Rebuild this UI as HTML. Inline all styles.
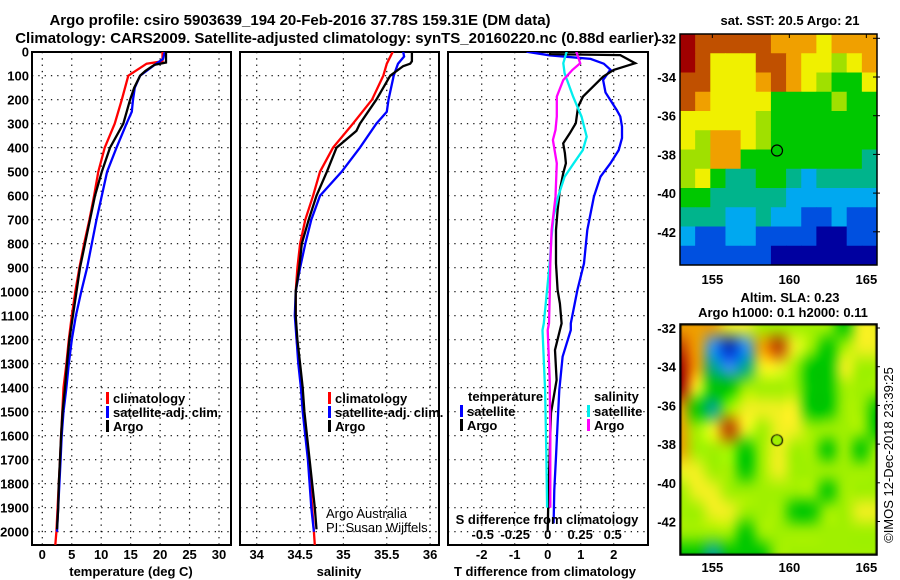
<!DOCTYPE html>
<html><head><meta charset="utf-8">
<style>
body{margin:0;background:#fff;}
svg{display:block;font-family:"Liberation Sans",Arial,sans-serif;}
.t{font-weight:bold;font-size:13px;fill:#000;}
.ti{font-weight:bold;font-size:15px;fill:#000;}
#sla{position:absolute;left:680px;top:324px;}
</style></head>
<body>
<div style="position:relative;width:900px;height:580px;overflow:hidden">
<svg id="chart" width="900" height="580" viewBox="0 0 900 580"></svg>
<canvas id="sla" width="197" height="231"></canvas>
</div>
<script>
// ---- data ----
const depthTicks=[0,100,200,300,400,500,600,700,800,900,1000,1100,1200,1300,1400,1500,1600,1700,1800,1900,2000];
const tempTicks=[0,5,10,15,20,25,30];
const salTicks=[34,34.5,35,35.5,36];
const salTickLabels=["34","34.5","35","35.5","36"];
const tdTicks=[-2,-1,0,1,2];
const sdTicks=[-0.5,-0.25,0,0.25,0.5];
const sdTickLabels=["-0.5","-0.25","0","0.25","0.5"];

const tArgoD=[0,45,55,80,100,150,200,300,400,500,600,700,800,900,1000,1100,1200,1300,1400,1500,1600,1700,1800,1900,1990];
const tArgoV=[21,21,19,17.5,16.6,15.6,14.9,13.75,11.5,10.1,8.95,8.1,7.25,6.4,5.8,5.2,4.6,4.2,3.85,3.45,3.2,3.0,2.8,2.7,2.5];
const tClimD=[0,40,50,100,200,300,400,500,600,700,800,900,1000,1100,1200,1300,1400,1500,1600,1700,1800,1900,2000,2055];
const tClimV=[20.4,20.4,17.7,14.6,13.5,12.3,10.6,9.5,8.8,8.0,7.1,6.3,5.6,5.0,4.5,4.1,3.6,3.4,3.2,3.0,2.8,2.6,2.4,2.2];
const tSatD=[0,30,60,100,150,200,250,300,400,500,600,700,800,900,1000,1100,1200,1300,1400,1500,1600,1700,1800,1900,2000];
const tSatV=[20.8,20.5,18.8,16.6,15.7,15.4,15.2,14.3,12.6,11,10.1,9.2,8.4,7.6,6.6,5.7,5.0,4.5,4.1,3.6,3.3,3.1,2.9,2.7,2.5];

const sArgoD=[0,40,50,60,100,150,200,300,330,400,500,600,700,800,900,1000,1100,1200,1300,1400,1500,1600,1700,1800,1900,1990];
const sArgoV=[35.79,35.79,35.77,35.69,35.54,35.46,35.38,35.19,35.15,34.92,34.81,34.69,34.6,34.52,34.49,34.45,34.45,34.47,34.5,34.53,34.55,34.58,34.61,34.64,34.67,34.69];
const sClimD=[0,50,100,200,300,400,500,600,700,800,900,1000,1100,1200,1300,1400,1500,1600,1700,1800,1900,2000,2055];
const sClimV=[35.57,35.5,35.46,35.33,35.11,34.88,34.73,34.65,34.56,34.5,34.47,34.45,34.45,34.46,34.49,34.52,34.54,34.57,34.6,34.62,34.64,34.66,34.67];
const sSatD=[0,20,50,80,100,200,250,300,400,500,600,700,800,900,1000,1100,1200,1300,1400,1500,1600,1700,1800,1900,2000];
const sSatV=[35.69,35.7,35.63,35.6,35.58,35.52,35.5,35.38,35.19,34.98,34.73,34.63,34.56,34.5,34.45,34.44,34.46,34.48,34.51,34.53,34.56,34.59,34.61,34.63,34.66];

const dtArgoD=[0,10,14,48,76,104,187,229,298,340,382,423,465,507,576,660,743,882,993,1049,1132,1160,1243,1368,1505,1714,1855,1993];
const dtArgoV=[0.07,0.07,2.2,2.65,2.0,1.68,1.07,0.92,0.85,0.67,0.47,0.52,0.55,0.47,0.37,0.3,0.25,0.25,0.3,0.37,0.42,0.37,0.22,0.27,0.1,0.05,0.02,0];
const dtSatD=[0,15,30,50,75,118,170,243,270,312,360,410,465,521,604,743,882,993,1132,1160,1271,1410,1549,1688,1826,1965];
const dtSatV=[-0.64,0.05,1.3,1.7,1.9,1.68,1.75,2.09,2.2,2.25,2.25,2.15,1.9,1.6,1.4,1.2,1.1,0.9,0.7,0.7,0.45,0.35,0.3,0.25,0.2,0.18];
const dsSatD=[0,48,90,187,270,354,410,465,521,604,687,771,882,1021,1132,1160,1410,1690,1900];
const dsSatV=[0.146,0.12,0.13,0.195,0.26,0.3,0.27,0.2,0.13,0.08,0.045,0.03,0.015,-0.01,-0.03,-0.04,-0.02,-0.01,-0.005];
const dsArgoD=[0,48,76,118,187,270,326,368,465,604,743,882,1021,1132,1160,1368,1576,1714,1900];
const dsArgoV=[0.22,0.25,0.19,0.12,0.07,0.07,0.06,0.04,0.07,0.06,0.03,0.02,0.015,0.01,0,0.015,0.02,0.02,0.02];

const lonTicks=[155,160,165];
const latTicks=[-32,-34,-36,-38,-40,-42];
const floatLon=159.2, floatLat=-37.8;
const sstGrid=[
[9,8,8,8,8,8,7,7,7,6,7,7,7],
[9,8,6,6,6,8,8,7,6,6,5,6,7],
[8,8,6,6,6,7,8,7,6,5,4,4,6],
[8,7,6,6,6,6,4,4,4,4,5,4,4],
[6,6,6,6,6,5,4,4,4,4,4,4,4],
[6,5,7,7,6,5,4,4,4,4,4,4,4],
[5,5,7,7,4,4,4,4,4,4,4,4,3],
[5,6,4,3,3,4,4,3,2,3,3,3,3],
[4,4,3,3,3,3,3,2,2,2,2,2,2],
[3,3,3,2,2,3,2,2,1,1,2,1,1],
[2,1,1,2,2,1,1,1,1,0,0,1,1],
[1,1,1,1,1,1,0,0,0,0,0,0,0]];
const slaGrid=[
[6,6,6,5,5,4,4,4,4,4,3,5,5],
[7,6,1,0,1,6,7,5,4,3,4,5,5],
[8,6,2,1,2,5,5,4,3,3,5,4,4],
[8,5,3,3,4,4,4,4,3,3,4,4,4],
[6,3,2,4,5,5,5,5,3,3,4,4,3],
[6,4,5,7,5,4,5,5,4,4,4,4,3],
[6,4,4,4,3,4,5,4,4,3,4,3,4],
[5,5,4,4,3,4,5,4,4,4,4,4,4],
[4,5,5,4,4,4,4,4,4,3,4,4,4],
[4,4,5,5,4,4,4,3,3,4,4,5,5],
[4,4,4,4,3,4,4,4,4,4,4,4,4],
[3,3,2,3,3,3,4,4,4,4,4,4,4]];
const sstColors=["#0000a0","#0050e0","#00a8f0","#00b48c","#00c800","#a0e000","#f0f000","#f0a000","#c05000","#a00000"];
const slaColors=["#0030c0","#3090f0","#00a890","#00c800","#a0f000","#f0f020","#f0a000","#c04000","#a00000"];

// ---- scales ----
const yD=d=>51.7+d*0.24;
const xT=v=>42.3+5.89*v;
const xS=v=>256.7+86.7*(v-34);
const xDT=v=>547.7+33*v;
const xDS=v=>547.7+130*v;
const P1={x0:32,x1:231},P2={x0:240,x1:439},P3={x0:448,x1:648};
const YT=52,YB=545;
const mapX=lon=>680+(lon-152.9)*15.4;
const sstY=lat=>38.3+(-32-lat)*19.35;
const slaY=lat=>328+(-32-lat)*19.35;

const NS="http://www.w3.org/2000/svg";
const svg=document.getElementById('chart');
function mk(tag,attrs,parent){const e=document.createElementNS(NS,tag);for(const k in attrs)e.setAttribute(k,attrs[k]);(parent||svg).appendChild(e);return e;}
function txt(x,y,s,cls,anchor,parent){const e=mk('text',{x:x,y:y,class:cls||'t','text-anchor':anchor||'start'},parent);e.textContent=s;return e;}

let e;
e=txt(300,25,"Argo profile: csiro 5903639_194 20-Feb-2016 37.78S 159.31E (DM data)",'ti','middle');


e=txt(337,43,"Climatology: CARS2009. Satellite-adjusted climatology: synTS_20160220.nc (0.88d earlier)",'ti','middle');



depthTicks.forEach(d=>{
  const t=txt(29,yD(d)+5,String(d),'t','end');
  
  
});

const defs=mk('defs',{});
[P1,P2,P3].forEach((p,i)=>{const c=mk('clipPath',{id:'clip'+i},defs);mk('rect',{x:p.x0,y:YT,width:p.x1-p.x0,height:YB-YT},c);});

function panel(p,idx,xticks,xf,name){
  const g=mk('g',{});
  
  
  depthTicks.forEach(d=>{const l=mk('line',{x1:p.x0,x2:p.x1,y1:yD(d),y2:yD(d),stroke:'#000','stroke-width':1.2,'stroke-dasharray':'1.3,5'},g);
    
    });
  xticks.forEach(v=>{const l=mk('line',{x1:xf(v),x2:xf(v),y1:YT,y2:YB,stroke:'#000','stroke-width':1.2,'stroke-dasharray':'1.3,5'},g);
    
    });
  const r=mk('rect',{x:p.x0,y:YT,width:p.x1-p.x0,height:YB-YT,fill:'none',stroke:'#000','stroke-width':2},g);
  
  
  return g;
}
function series(D,V,xf,color,idx,name){
  const pts=D.map((d,i)=>xf(V[i]).toFixed(1)+','+yD(d).toFixed(1)).join(' ');
  const l=mk('polyline',{points:pts,fill:'none',stroke:color,'stroke-width':2.3,'clip-path':'url(#clip'+idx+')'});
  
  
}

panel(P1,0,tempTicks,xT,'temperature-panel');
tempTicks.forEach(v=>{const t=txt(xT(v),559,String(v),'t','middle');
  
  });
e=txt(131,576,"temperature (deg C)",'t','middle');


series(tClimD,tClimV,xT,'#f00',0,'temp-climatology-line');
series(tSatD,tSatV,xT,'#00f',0,'temp-satellite-line');
series(tArgoD,tArgoV,xT,'#000',0,'temp-argo-line');

panel(P2,1,salTicks,xS,'salinity-panel');
salTicks.forEach((v,i)=>{const t=txt(xS(v),559,salTickLabels[i],'t','middle');
  
  });
e=txt(339,576,"salinity",'t','middle');


series(sClimD,sClimV,xS,'#f00',1,'sal-climatology-line');
series(sSatD,sSatV,xS,'#00f',1,'sal-satellite-line');
series(sArgoD,sArgoV,xS,'#000',1,'sal-argo-line');

panel(P3,2,tdTicks,xDT,'difference-panel');
tdTicks.forEach(v=>{const t=txt(xDT(v),559,String(v),'t','middle');
  
  });
e=txt(545,576,"T difference from climatology",'t','middle');


series(dtSatD,dtSatV,xDT,'#00f',2,'tdiff-satellite-line');
series(dtArgoD,dtArgoV,xDT,'#000',2,'tdiff-argo-line');
series(dsSatD,dsSatV,xDS,'#0ee',2,'sdiff-satellite-line');
series(dsArgoD,dsArgoV,xDS,'#f0f',2,'sdiff-argo-line');
e=txt(547,524,"S difference from climatology",'t','middle');


sdTicks.forEach((v,i)=>{const t=txt(xDS(v),539,sdTickLabels[i],'t','middle');
  
  });

function legItem(x,y,color,label,name){
  const g=mk('g',{});
  
  
  mk('rect',{x:x,y:y-11,width:3,height:12,fill:color},g);
  txt(x+7,y,label,'t','start',g);
}
legItem(106,403,'#f00','climatology','legend-climatology');
legItem(106,417,'#00f','satellite-adj. clim.','legend-satellite');
legItem(106,431,'#000','Argo','legend-argo');
legItem(328,403,'#f00','climatology','legend-sal-climatology');
legItem(328,417,'#00f','satellite-adj. clim.','legend-sal-satellite');
legItem(328,431,'#000','Argo','legend-sal-argo');
e=txt(468,401,"temperature");


legItem(460,416,'#00f','satellite','legend-tdiff-satellite');
legItem(460,430,'#000','Argo','legend-tdiff-argo');
e=txt(594,401,"salinity");


legItem(587,416,'#0ee','satellite','legend-sdiff-satellite');
legItem(587,430,'#f0f','Argo','legend-sdiff-argo');
e=txt(326,518,"Argo Australia",'t','start');
e.setAttribute('style','font-weight:normal');


e=txt(326,532,"PI: Susan Wijffels",'t','start');
e.setAttribute('style','font-weight:normal');



// ---- maps ----
const MX0=680,MX1=877;
function mapFrame(y0,y1,yf,name,lonY){
  const g=mk('g',{});
  
  
  mk('rect',{x:MX0,y:y0,width:MX1-MX0,height:y1-y0,fill:'none',stroke:'#000','stroke-width':1.5},g);
  lonTicks.forEach(v=>{mk('line',{x1:mapX(v),x2:mapX(v),y1:y0,y2:y0+4,stroke:'#000'},g);
    const t=txt(mapX(v),lonY,String(v),'t','middle',g);
    
    });
  latTicks.forEach(v=>{mk('line',{x1:MX1-4,x2:MX1+3,y1:yf(v),y2:yf(v),stroke:'#000'},g);
    const t=txt(676,yf(v)+5,String(v),'t','end',g);
    
    });
  return g;
}
const sstTop=34,sstBot=265;
const cw=(MX1-MX0)/13, chS=(sstBot-sstTop)/12;
sstGrid.forEach((row,r)=>row.forEach((v,c)=>{
  const cell=mk('rect',{x:(MX0+c*cw).toFixed(2),y:(sstTop+r*chS).toFixed(2),width:(cw+0.5).toFixed(2),height:(chS+0.5).toFixed(2),fill:sstColors[v]});
  
  
}));
mapFrame(sstTop,sstBot,sstY,'sst-map',284);
e=txt(790,25,"sat. SST: 20.5 Argo: 21",'t','middle');


e=mk('circle',{cx:mapX(floatLon),cy:sstY(floatLat),r:5.5,fill:'none',stroke:'#000','stroke-width':1.2});



const slaTop=324,slaBot=555;
mapFrame(slaTop,slaBot,slaY,'sla-map',572);
e=txt(790,302,"Altim. SLA: 0.23",'t','middle');


e=txt(783,317,"Argo h1000: 0.1 h2000: 0.11",'t','middle');


e=mk('text',{x:0,y:0,transform:'translate(893,455) rotate(-90)','text-anchor':'middle',style:'font-size:13px;fill:#000'});
e.textContent="©IMOS 12-Dec-2018 23:39:25";



(function(){
  const small=document.createElement('canvas');small.width=13;small.height=12;
  const sc=small.getContext('2d');
  slaGrid.forEach((row,r)=>row.forEach((v,c)=>{sc.fillStyle=slaColors[v];sc.fillRect(c,r,1,1);}));
  const cv=document.getElementById('sla');const ctx=cv.getContext('2d');
  ctx.imageSmoothingEnabled=true;ctx.imageSmoothingQuality='high';
  ctx.drawImage(small,0,0,13,12,-8,-8,213,247);
  ctx.fillStyle='#a0f000';ctx.strokeStyle='#000';ctx.lineWidth=1.2;
  ctx.beginPath();ctx.arc(mapX(floatLon)-MX0,slaY(floatLat)-slaTop,5.5,0,Math.PI*2);ctx.fill();ctx.stroke();
  ctx.strokeStyle='#000';ctx.lineWidth=1.5;ctx.strokeRect(0.75,0.75,195.5,229.5);
})();
</script>
</body></html>
